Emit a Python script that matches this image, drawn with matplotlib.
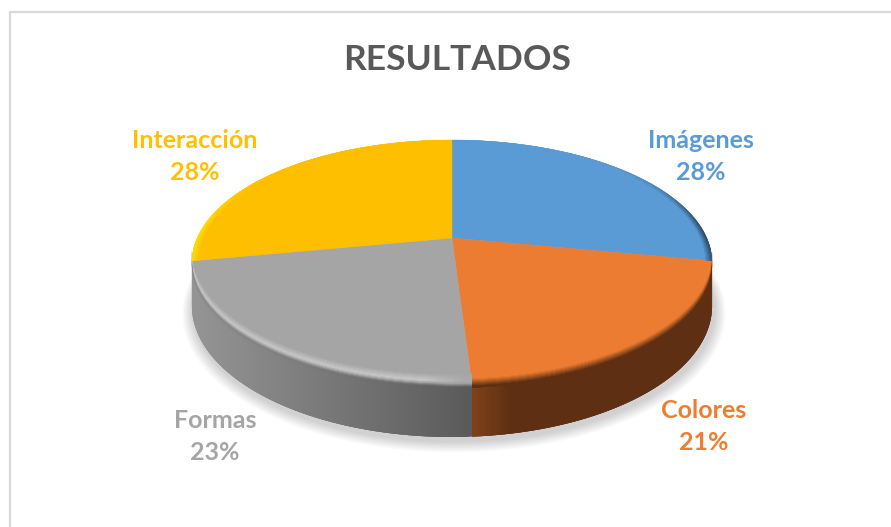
import numpy as np
import matplotlib
matplotlib.use("Agg")
import matplotlib.pyplot as plt
from matplotlib.collections import PolyCollection
from matplotlib.colors import to_rgb

title = "RESULTADOS"
categories = ["Imágenes", "Colores", "Formas", "Interacción"]
values = [28, 21, 23, 28]
colors = ["#5B9BD5", "#EB7C31", "#A5A5A5", "#FDBF00"]
label_pos = [(701, 141, 173), (704, 411, 442), (215, 420, 452), (195, 141, 173)]

CX, CY, A, B, K, H = 452.0, 238.0, 254.8, 117.6, 0.2, 41.6
plt.rcParams["font.family"] = ["Lato", "DejaVu Sans"]


def proj(theta_deg, r=1.0, z=0.0):
    t = np.radians(theta_deg)
    x, y = r * np.sin(t), r * np.cos(t)
    w = 1 + K * y
    return CX + A * x / w, CY - B * y / w + z / w


def mix(c1, c2, f):
    c1, c2 = np.array(to_rgb(c1)), np.array(to_rgb(c2))
    return tuple(c1 + (c2 - c1) * np.clip(f, 0, 1))


def strips(ax, top, bottom, cols, zorder):
    # each quad overlaps the next one, so anti-aliased seams never show
    n = len(top[0])
    polys = []
    for i in range(n - 1):
        e = min(i + 3, n - 1)
        idx = np.arange(i, e + 1)
        polys.append(np.r_[np.c_[top[0][idx], top[1][idx]],
                           np.c_[bottom[0][idx[::-1]], bottom[1][idx[::-1]]]])
    ax.add_collection(PolyCollection(polys, facecolors=cols, edgecolors="none", linewidths=0,
                                     antialiaseds=True, zorder=zorder))


fig = plt.figure(figsize=(8.91, 5.27), dpi=100)
ax = fig.add_axes([0, 0, 1, 1])
ax.set_xlim(0, 891)
ax.set_ylim(527, 0)
ax.axis("off")

# chart frame
ax.plot([10, 10, 891], [527, 11.5, 11.5], color="#D9D9D9", lw=1.6, zorder=1)

edges = np.concatenate([[0], np.cumsum(values)]) / np.sum(values) * 360.0
full = np.linspace(0, 360, 361)

# soft shadow
for i in range(16):
    sx, sy = proj(full, 1.0, H)
    sx = CX + (sx - CX) * (1.0 + 0.0028 * (16 - i)) + 2
    sy = CY + (sy - CY) * (1.0 + 0.0036 * (16 - i)) + 4
    ax.fill(sx, sy, color="#808080", alpha=0.024, lw=0, zorder=2)

# side wall
for k in (1, 2):
    a0, a1 = edges[k], edges[k + 1]
    th = np.arange(a0, a1 + 0.5, 0.5)
    th[-1] = a1
    tx, ty = proj(th)
    bx, by = proj(th, 1.0, H)
    xm = (tx[:-1] + tx[1:]) / 2
    if k == 2:
        cols = [mix("#5A5A5A", "#949494", (472 - x) / 275) for x in xm]
    else:
        cols = [mix("#7E421A", "#5E2F12", (x - 472) / 40) for x in xm]
    strips(ax, (tx, ty), (bx, by), cols, 3)

# top faces
for k, c in enumerate(colors):
    th = np.linspace(edges[k], edges[k + 1], 240)
    x, y = proj(th)
    ax.fill(np.r_[CX, x], np.r_[CY, y], color=c, lw=0.3, zorder=4)

# bevel on the front rim (vertical-offset band)
offsets = np.linspace(-11, 3, 15)
for k in (1, 2):
    a0, a1 = edges[k], edges[k + 1]
    th = np.arange(a0, a1 + 0.5, 0.5)
    th[-1] = a1
    tx, ty = proj(th)
    xm = (tx[:-1] + tx[1:]) / 2
    for j in range(len(offsets) - 1):
        f = (j + 0.5) / (len(offsets) - 1)
        if k == 2:
            if f < 0.5:
                base = mix("#A5A5A5", "#C8C8C8", f / 0.5)
            else:
                base = mix("#C8C8C8", "#707070", (f - 0.5) / 0.4)
            cols = [mix(mix("#A5A5A5", base, np.clip((472 - x) / 45, 0.15, 1)),
                        mix("#5A5A5A", "#949494", (472 - x) / 275),
                        np.clip((f - 0.7) / 0.25, 0, 1)) for x in xm]
        else:
            cols = [mix("#EB7C31", "#5E2F12", (f - 0.35) / 0.55)] * len(xm)
        extra = 0.8 if j < len(offsets) - 2 else 0.0
        strips(ax, (tx, ty + offsets[j]), (tx, ty + offsets[j + 1] + extra), cols, 5)

# thin rim tint on far sides
for k, tint in ((0, "#2F4F6E"), (3, "#FFDD00")):
    a0, a1 = edges[k], edges[k + 1]
    th = np.arange(a0, a1 + 0.5, 0.5)
    th[-1] = a1
    rr = np.linspace(0.975, 1.0, 6)
    weight = np.abs(np.sin(np.radians((th[:-1] + th[1:]) / 2))) ** 10
    for j in range(len(rr) - 1):
        cols = [mix(colors[k], tint, w * (j + 1) / 5) for w in weight]
        strips(ax, proj(th, rr[j]), proj(th, rr[j + 1]), cols, 5)

# title and labels
ax.text(457.5, 60, title, ha="center", va="center", fontsize=25.5, fontweight="bold", color="#595959", zorder=6)
total = sum(values)
for name, v, c, (lx, y1, y2) in zip(categories, values, colors, label_pos):
    col = "#FFC000" if name == "Interacción" else ("#ED7D31" if name == "Colores" else c)
    ax.text(lx, y1, name, ha="center", va="center", fontsize=18, fontweight="bold", color=col, zorder=6)
    ax.text(lx, y2, f"{round(100 * v / total)}%", ha="center", va="center", fontsize=18, fontweight="bold", color=col, zorder=6)

fig.savefig("out.png", dpi=100)
